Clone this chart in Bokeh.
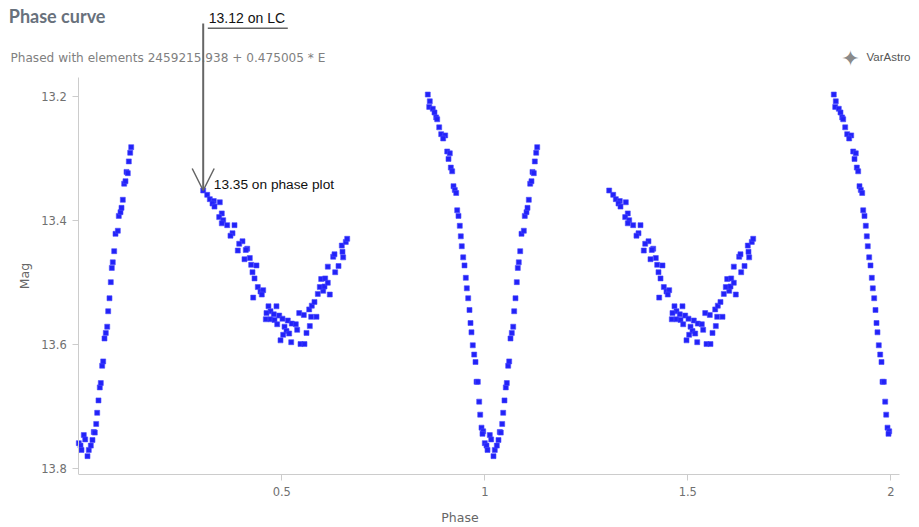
from bokeh.plotting import figure
from bokeh.models import (Range1d, FixedTicker, CustomJSTickFormatter, Label,
                          Arrow, OpenHead)
from bokeh.embed import file_html
from bokeh.resources import INLINE

# ---------------- data (one phase cycle) ----------------
phase_a = [0.0000, 0.0042, 0.0067, 0.0123, 0.0158, 0.0214, 0.0246, 0.0296, 0.0337, 0.0369,
           0.0394, 0.0429, 0.0453, 0.0485, 0.0517, 0.0542, 0.0576, 0.0601, 0.0633, 0.0665,
           0.0700, 0.0724, 0.0756, 0.0788, 0.0813, 0.0837, 0.0872, 0.0904, 0.0961, 0.0985,
           0.1027, 0.1052, 0.1084, 0.1118, 0.1150, 0.1175, 0.1207, 0.1232, 0.1266, 0.1291]
mag_a = [13.759, 13.763, 13.770, 13.746, 13.753, 13.780, 13.770, 13.763, 13.754, 13.741,
         13.742, 13.728, 13.710, 13.690, 13.669, 13.662, 13.634, 13.627, 13.590, 13.581,
         13.571, 13.546, 13.525, 13.499, 13.476, 13.467, 13.449, 13.421, 13.416, 13.392,
         13.386, 13.379, 13.366, 13.340, 13.336, 13.321, 13.323, 13.304, 13.290, 13.281]

phase_b = [0.3064, 0.3163, 0.3227, 0.3325, 0.3293, 0.3473, 0.3342, 0.3522, 0.3458, 0.3557,
           0.3655, 0.3522, 0.3835, 0.3786, 0.3736, 0.4032, 0.3951, 0.4148, 0.3916, 0.4113,
           0.4212, 0.4081, 0.4246, 0.4377, 0.4278, 0.4328, 0.4409, 0.4475, 0.4542, 0.4296,
           0.4507, 0.4672, 0.4869, 0.4722, 0.4623, 0.4803, 0.4936, 0.5017, 0.4606, 0.4722,
           0.4820, 0.4887, 0.5148, 0.5067, 0.5246, 0.5345, 0.5116, 0.5034, 0.5182, 0.5379,
           0.4968, 0.5232, 0.5461, 0.5559, 0.5608, 0.5690, 0.5429, 0.5542, 0.5724, 0.5855,
           0.5675, 0.5739, 0.5805, 0.5887, 0.6020, 0.6182, 0.5936, 0.6052, 0.5970, 0.6069,
           0.6133, 0.6315, 0.6133, 0.6397, 0.6266, 0.6298, 0.6512, 0.6495, 0.6478, 0.6576,
           0.6611]
mag_b = [13.351, 13.358, 13.365, 13.368, 13.372, 13.370, 13.377, 13.388, 13.394, 13.399,
         13.407, 13.404, 13.407, 13.420, 13.424, 13.433, 13.437, 13.445, 13.448, 13.447,
         13.460, 13.462, 13.471, 13.472, 13.483, 13.493, 13.507, 13.514, 13.512, 13.524,
         13.519, 13.538, 13.538, 13.546, 13.549, 13.551, 13.553, 13.558, 13.559, 13.559,
         13.560, 13.567, 13.561, 13.571, 13.566, 13.567, 13.578, 13.584, 13.582, 13.576,
         13.593, 13.596, 13.599, 13.599, 13.581, 13.570, 13.549, 13.552, 13.555, 13.555,
         13.543, 13.537, 13.531, 13.518, 13.513, 13.519, 13.507, 13.506, 13.494, 13.493,
         13.500, 13.483, 13.474, 13.473, 13.458, 13.454, 13.459, 13.450, 13.440, 13.434,
         13.429]

phase_c = [0.8596, 0.8645, 0.8631, 0.8719, 0.8761, 0.8803, 0.8828, 0.8877, 0.8926, 0.9025,
           0.8975, 0.9074, 0.9138, 0.9106, 0.9163, 0.9197, 0.9229, 0.9261, 0.9296, 0.9320,
           0.9352, 0.9384, 0.9409, 0.9433, 0.9468, 0.9500, 0.9532, 0.9557, 0.9591, 0.9623,
           0.9648, 0.9672, 0.9704, 0.9739, 0.9771, 0.9796, 0.9828, 0.9862, 0.9887, 0.9919,
           0.9961, 0.9943]
mag_c = [13.196, 13.207, 13.216, 13.219, 13.225, 13.233, 13.236, 13.249, 13.260, 13.262,
         13.267, 13.288, 13.291, 13.300, 13.314, 13.320, 13.344, 13.350, 13.355, 13.383,
         13.392, 13.408, 13.425, 13.441, 13.459, 13.472, 13.492, 13.509, 13.525, 13.544,
         13.565, 13.580, 13.601, 13.616, 13.628, 13.660, 13.660, 13.692, 13.713, 13.734,
         13.740, 13.744]

x_ticks = [0.5, 1, 1.5, 2]
y_ticks = [13.2, 13.4, 13.6, 13.8]
x_axis_bounds = (0.0, 2.021)
y_axis_bounds = (13.168, 13.81)

title_text = "Phase curve"
subtitle_text = "Phased with elements 2459215.938 + 0.475005 * E"
lc_note = "13.12 on LC"
phase_note = "13.35 on phase plot"
note_phase = 0.3064
note_mag = 13.351

# phase folding: every observation appears at phase and phase + 1
base_phase = phase_a + phase_b + phase_c
base_mag = mag_a + mag_b + mag_c
phase = base_phase + [ph + 1 for ph in base_phase]
mag = base_mag + base_mag

# ---------------- layout: frame covers page x 0..919, y 0..475 ----------------
W, H, FB = 919, 527, 475
PX0, PXS = 78.3, 406.0      # page x of phase 0, pixels per phase unit
PY0, PYS = 96.7, 620.5      # page y of mag 13.2, pixels per magnitude

def dx(px):
    return (px - PX0) / PXS

def dy(py):
    return 13.2 + (py - PY0) / PYS

p = figure(width=W, height=H, output_backend="svg", toolbar_location=None,
           x_range=Range1d(dx(0), dx(W)), y_range=Range1d(dy(FB), dy(0)),
           min_border_left=0, min_border_right=0, min_border_top=0,
           min_border_bottom=H - FB)
p.outline_line_color = None
p.xgrid.visible = False
p.ygrid.visible = False
p.background_fill_color = "white"
p.border_fill_color = "white"

p.scatter(phase, mag, marker="square", size=5, fill_color="#2222f8",
          line_color="#4b4bff", line_alpha=0.6, line_width=1)

fmt = CustomJSTickFormatter(code="return String(tick)")
for ax, ticks in ((p.xaxis[0], x_ticks), (p.yaxis[0], y_ticks)):
    ax.ticker = FixedTicker(ticks=ticks)
    ax.formatter = fmt
    ax.axis_line_color = "#cccccc"
    ax.major_tick_line_color = "#cccccc"
    ax.minor_tick_line_color = None
    ax.major_tick_in = 0
    ax.major_tick_out = 6
    ax.major_label_text_font = "DejaVu Sans"
    ax.major_label_text_font_size = "11.5px"
    ax.major_label_text_color = "#707070"
    ax.axis_label_text_font = "DejaVu Sans"
    ax.axis_label_text_font_size = "12.5px"
    ax.axis_label_text_font_style = "normal"
    ax.axis_label_text_color = "#666666"

p.xaxis.bounds = x_axis_bounds
p.yaxis.bounds = y_axis_bounds
p.yaxis.fixed_location = x_axis_bounds[0]
p.xaxis.axis_label = "Phase"
p.yaxis.axis_label = "Mag"
p.xaxis.major_label_standoff = 6
p.xaxis.axis_label_standoff = 11
p.yaxis.major_label_standoff = 6
p.yaxis.axis_label_standoff = 6

# titles and logo text
p.add_layout(Label(x=dx(8.3), y=dy(16), text=title_text, text_font="Lato",
                   text_font_size="18px", text_font_style="bold",
                   text_color="#68717c", text_baseline="middle", text_align="left"))
p.add_layout(Label(x=dx(10), y=dy(58), text=subtitle_text, text_font="DejaVu Sans",
                   text_font_size="12.1px", text_color="#808080",
                   text_baseline="middle", text_align="left"))
p.add_layout(Label(x=dx(866), y=dy(57), text="VarAstro", text_font="Liberation Sans",
                   text_font_size="11.5px", text_color="#555555",
                   text_baseline="middle", text_align="left"))
p.add_layout(Label(x=dx(850), y=dy(58), text="\u2726", text_font="DejaVu Sans",
                   text_font_size="22px", text_color="#8a8a8a",
                   text_baseline="middle", text_align="center"))

# annotation: arrow from the light-curve note down to the point
p.add_layout(Arrow(x_start=note_phase, y_start=dy(23), x_end=note_phase, y_end=note_mag,
                   line_color="#666666", line_width=2,
                   end=OpenHead(size=22, line_color="#666666", line_width=1.5)))
p.add_layout(Arrow(x_start=dx(207.3), y_start=dy(27.7), x_end=dx(287.3), y_end=dy(27.7),
                   line_color="#666666", line_width=1.5, end=None))
p.add_layout(Label(x=dx(208.3), y=dy(18), text=lc_note, text_font="Liberation Sans",
                   text_font_size="14px", text_color="#111111",
                   text_baseline="middle", text_align="left"))
p.add_layout(Label(x=dx(213.3), y=dy(184), text=phase_note, text_font="Liberation Sans",
                   text_font_size="13.7px", text_color="#111111",
                   text_baseline="middle", text_align="left"))

open("out.html", "w").write(file_html(p, INLINE))
